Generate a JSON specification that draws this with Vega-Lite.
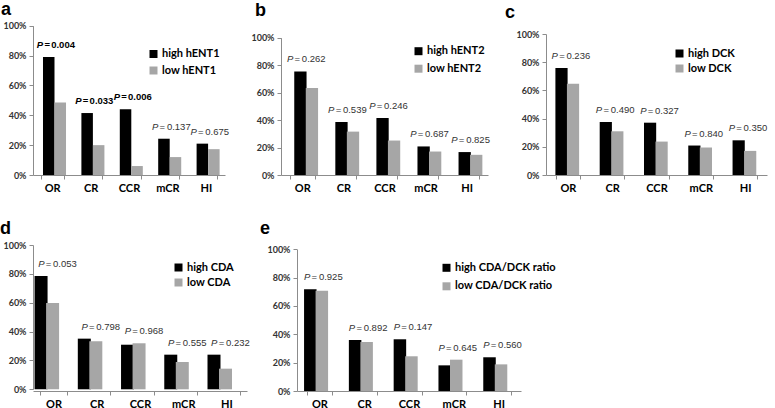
{
  "$schema": "https://vega.github.io/schema/vega-lite/v6.json",
  "padding": {"left": 0, "top": 0, "right": 0, "bottom": 0},
  "background": "white",
  "config": {
    "view": {"stroke": null},
    "axis": {"grid": false, "domainColor": "#8c8c8c", "tickColor": "#8c8c8c", "tickSize": 4, "labelFont": "Lato", "labelFontWeight": "bold"},
    "axisX": {"labelAngle": 0, "labelFontSize": 11, "labelColor": "#000", "tickBand": "extent", "labelPadding": 3},
    "axisY": {"labelFontSize": 9, "labelColor": "#333", "labelPadding": 3},
    "legend": {"orient": "none", "symbolType": "square", "symbolSize": 64, "symbolStrokeWidth": 0, "labelFont": "Lato", "labelFontWeight": "bold", "labelFontSize": 11, "labelColor": "#000", "rowPadding": 4, "labelOffset": 3},
    "title": {"anchor": "start", "frame": "bounds", "font": "Liberation Sans", "fontSize": 18, "fontWeight": "bold", "color": "#000"},
    "text": {"font": "Liberation Sans", "fontSize": 9.5, "color": "#333"}
  },
  "datasets": {
    "a": [
      {"category": "OR", "group": "high hENT1", "value": 79, "p": 0.004},
      {"category": "OR", "group": "low hENT1", "value": 48.5, "p": 0.004},
      {"category": "CR", "group": "high hENT1", "value": 41.5, "p": 0.033},
      {"category": "CR", "group": "low hENT1", "value": 20, "p": 0.033},
      {"category": "CCR", "group": "high hENT1", "value": 44, "p": 0.006},
      {"category": "CCR", "group": "low hENT1", "value": 6, "p": 0.006},
      {"category": "mCR", "group": "high hENT1", "value": 24.3, "p": 0.137},
      {"category": "mCR", "group": "low hENT1", "value": 12, "p": 0.137},
      {"category": "HI", "group": "high hENT1", "value": 21, "p": 0.675},
      {"category": "HI", "group": "low hENT1", "value": 17.3, "p": 0.675}
    ],
    "b": [
      {"category": "OR", "group": "high hENT2", "value": 75.4, "p": 0.262},
      {"category": "OR", "group": "low hENT2", "value": 63.3, "p": 0.262},
      {"category": "CR", "group": "high hENT2", "value": 38.6, "p": 0.539},
      {"category": "CR", "group": "low hENT2", "value": 31.6, "p": 0.539},
      {"category": "CCR", "group": "high hENT2", "value": 41.5, "p": 0.246},
      {"category": "CCR", "group": "low hENT2", "value": 25.1, "p": 0.246},
      {"category": "mCR", "group": "high hENT2", "value": 20.8, "p": 0.687},
      {"category": "mCR", "group": "low hENT2", "value": 17.1, "p": 0.687},
      {"category": "HI", "group": "high hENT2", "value": 16.7, "p": 0.825},
      {"category": "HI", "group": "low hENT2", "value": 14.7, "p": 0.825}
    ],
    "c": [
      {"category": "OR", "group": "high DCK", "value": 75.8, "p": 0.236},
      {"category": "OR", "group": "low DCK", "value": 64.8, "p": 0.236},
      {"category": "CR", "group": "high DCK", "value": 37.6, "p": 0.49},
      {"category": "CR", "group": "low DCK", "value": 31, "p": 0.49},
      {"category": "CCR", "group": "high DCK", "value": 37.1, "p": 0.327},
      {"category": "CCR", "group": "low DCK", "value": 23.7, "p": 0.327},
      {"category": "mCR", "group": "high DCK", "value": 20.9, "p": 0.84},
      {"category": "mCR", "group": "low DCK", "value": 19.5, "p": 0.84},
      {"category": "HI", "group": "high DCK", "value": 24.6, "p": 0.35},
      {"category": "HI", "group": "low DCK", "value": 17.1, "p": 0.35}
    ],
    "d": [
      {"category": "OR", "group": "high CDA", "value": 78.5, "p": 0.053},
      {"category": "OR", "group": "low CDA", "value": 59.8, "p": 0.053},
      {"category": "CR", "group": "high CDA", "value": 35.1, "p": 0.798},
      {"category": "CR", "group": "low CDA", "value": 33.3, "p": 0.798},
      {"category": "CCR", "group": "high CDA", "value": 30.9, "p": 0.968},
      {"category": "CCR", "group": "low CDA", "value": 31.9, "p": 0.968},
      {"category": "mCR", "group": "high CDA", "value": 24, "p": 0.555},
      {"category": "mCR", "group": "low CDA", "value": 18.9, "p": 0.555},
      {"category": "HI", "group": "high CDA", "value": 24, "p": 0.232},
      {"category": "HI", "group": "low CDA", "value": 14.3, "p": 0.232}
    ],
    "e": [
      {"category": "OR", "group": "high CDA/DCK ratio", "value": 71.8, "p": 0.925},
      {"category": "OR", "group": "low CDA/DCK ratio", "value": 70.8, "p": 0.925},
      {"category": "CR", "group": "high CDA/DCK ratio", "value": 36, "p": 0.892},
      {"category": "CR", "group": "low CDA/DCK ratio", "value": 34.6, "p": 0.892},
      {"category": "CCR", "group": "high CDA/DCK ratio", "value": 36.5, "p": 0.147},
      {"category": "CCR", "group": "low CDA/DCK ratio", "value": 24.5, "p": 0.147},
      {"category": "mCR", "group": "high CDA/DCK ratio", "value": 18.1, "p": 0.645},
      {"category": "mCR", "group": "low CDA/DCK ratio", "value": 22.1, "p": 0.645},
      {"category": "HI", "group": "high CDA/DCK ratio", "value": 23.8, "p": 0.56},
      {"category": "HI", "group": "low CDA/DCK ratio", "value": 18.8, "p": 0.56}
    ]
  },
  "resolve": {"scale": {"color": "independent"}, "legend": {"color": "independent"}},
  "spacing": 26,
  "vconcat": [
    {
      "spacing": 15,
      "resolve": {"scale": {"color": "independent"}, "legend": {"color": "independent"}},
      "hconcat": [
        {
          "title": {"text": "a", "offset": 3},
          "width": 192, "height": 151,
          "data": {"name": "a"},
          "encoding": {
            "x": {"field": "category", "type": "nominal", "sort": ["OR", "CR", "CCR", "mCR", "HI"], "scale": {"type": "band", "paddingInner": 0.4, "paddingOuter": 0.2}, "title": null},
            "y": {"field": "value", "type": "quantitative", "scale": {"domain": [0, 100], "range": [151, 1.7]}, "axis": {"values": [0, 20, 40, 60, 80, 100], "labelExpr": "datum.value + '%'", "labelOverlap": false, "minExtent": 32, "maxExtent": 32}, "title": null}
          },
          "layer": [
            {"mark": {"type": "bar", "size": 11.5}, "encoding": {
              "xOffset": {"field": "group", "type": "nominal", "scale": {"paddingInner": 0, "paddingOuter": 0}},
              "color": {"field": "group", "type": "nominal", "scale": {"range": ["#000000", "#a6a6a6"]}, "legend": {"title": null, "legendX": 115, "legendY": 24.5, "rowPadding": 4.5}}
            }},
            {"transform": [{"aggregate": [{"op": "max", "field": "value", "as": "value"}], "groupby": ["category", "p"]}],
             "layer": [
               {"transform": [{"filter": "datum.p < 0.05"}], "mark": {"type": "text", "text": "P", "fontStyle": "italic", "fontWeight": "bold", "align": "right", "dx": -9, "dy": -12, "color": "#000"}},
               {"transform": [{"filter": "datum.p < 0.05"}], "mark": {"type": "text", "text": "=", "fontWeight": "bold", "align": "center", "dx": -5, "dy": -12, "color": "#000"}},
               {"transform": [{"filter": "datum.p < 0.05"}], "mark": {"type": "text", "fontWeight": "bold", "align": "left", "dx": -1, "dy": -12, "color": "#000"}, "encoding": {"text": {"field": "p", "type": "quantitative", "format": ".3f"}}},
               {"transform": [{"filter": "datum.p >= 0.05"}], "mark": {"type": "text", "text": "P", "fontStyle": "italic", "align": "right", "dx": -9, "dy": -12}},
               {"transform": [{"filter": "datum.p >= 0.05"}], "mark": {"type": "text", "text": "=", "align": "center", "dx": -5, "dy": -12}},
               {"transform": [{"filter": "datum.p >= 0.05"}], "mark": {"type": "text", "align": "left", "dx": -0.5, "dy": -12}, "encoding": {"text": {"field": "p", "type": "quantitative", "format": ".3f"}}}
             ]}
          ]
        },
        {
          "title": {"text": "b", "offset": 4, "dx": 10},
          "width": 207, "height": 151,
          "data": {"name": "b"},
          "encoding": {
            "x": {"field": "category", "type": "nominal", "sort": ["OR", "CR", "CCR", "mCR", "HI"], "scale": {"type": "band", "paddingInner": 0.4, "paddingOuter": 0.22}, "title": null},
            "y": {"field": "value", "type": "quantitative", "scale": {"domain": [0, 100], "range": [151, 13.7]}, "axis": {"values": [0, 20, 40, 60, 80, 100], "labelExpr": "datum.value + '%'", "labelOverlap": false, "minExtent": 36, "maxExtent": 36}, "title": null}
          },
          "layer": [
            {"mark": {"type": "bar", "size": 12.3}, "encoding": {
              "xOffset": {"field": "group", "type": "nominal", "scale": {"paddingInner": 0, "paddingOuter": 0}},
              "color": {"field": "group", "type": "nominal", "scale": {"range": ["#000000", "#a6a6a6"]}, "legend": {"title": null, "legendX": 132, "legendY": 21.7, "rowPadding": 5.5}}
            }},
            {"transform": [{"aggregate": [{"op": "max", "field": "value", "as": "value"}], "groupby": ["category", "p"]}],
             "layer": [
               {"mark": {"type": "text", "text": "P", "fontStyle": "italic", "align": "right", "dx": -9, "dy": -12}},
               {"mark": {"type": "text", "text": "=", "align": "center", "dx": -5, "dy": -12}},
               {"mark": {"type": "text", "align": "left", "dx": -0.5, "dy": -12}, "encoding": {"text": {"field": "p", "type": "quantitative", "format": ".3f"}}}
             ]}
          ]
        },
        {
          "title": {"text": "c", "offset": 2},
          "width": 221, "height": 151,
          "data": {"name": "c"},
          "encoding": {
            "x": {"field": "category", "type": "nominal", "sort": ["OR", "CR", "CCR", "mCR", "HI"], "scale": {"type": "band", "paddingInner": 0.45, "paddingOuter": 0.22}, "title": null},
            "y": {"field": "value", "type": "quantitative", "scale": {"domain": [0, 100], "range": [151, 10]}, "axis": {"values": [0, 20, 40, 60, 80, 100], "labelExpr": "datum.value + '%'", "labelOverlap": false, "minExtent": 41, "maxExtent": 41}, "title": null}
          },
          "layer": [
            {"mark": {"type": "bar", "size": 12.2}, "encoding": {
              "xOffset": {"field": "group", "type": "nominal", "scale": {"paddingInner": 0, "paddingOuter": 0}},
              "color": {"field": "group", "type": "nominal", "scale": {"range": ["#000000", "#a6a6a6"]}, "legend": {"title": null, "legendX": 128, "legendY": 24, "rowPadding": 3}}
            }},
            {"transform": [{"aggregate": [{"op": "max", "field": "value", "as": "value"}], "groupby": ["category", "p"]}],
             "layer": [
               {"mark": {"type": "text", "text": "P", "fontStyle": "italic", "align": "right", "dx": -10, "dy": -12}},
               {"mark": {"type": "text", "text": "=", "align": "center", "dx": -6, "dy": -12}},
               {"mark": {"type": "text", "align": "left", "dx": -1.5, "dy": -12}, "encoding": {"text": {"field": "p", "type": "quantitative", "format": ".3f"}}}
             ]}
          ]
        }
      ]
    },
    {
      "spacing": 10,
      "resolve": {"scale": {"color": "independent"}, "legend": {"color": "independent"}},
      "hconcat": [
        {
          "title": {"text": "d", "offset": 3.5},
          "width": 214, "height": 147,
          "data": {"name": "d"},
          "encoding": {
            "x": {"field": "category", "type": "nominal", "sort": ["OR", "CR", "CCR", "mCR", "HI"], "scale": {"type": "band", "paddingInner": 0.37, "paddingOuter": 0.16}, "title": null},
            "y": {"field": "value", "type": "quantitative", "scale": {"domain": [0, 100], "range": [145.3, 1]}, "axis": {"values": [0, 20, 40, 60, 80, 100], "labelExpr": "datum.value + '%'", "labelOverlap": false, "minExtent": 33, "maxExtent": 33}, "title": null}
          },
          "layer": [
            {"mark": {"type": "bar", "size": 13}, "encoding": {
              "xOffset": {"field": "group", "type": "nominal", "scale": {"paddingInner": 0, "paddingOuter": 0}},
              "color": {"field": "group", "type": "nominal", "scale": {"range": ["#000000", "#a6a6a6"]}, "legend": {"title": null, "legendX": 140, "legendY": 18, "rowPadding": 3}}
            }},
            {"transform": [{"aggregate": [{"op": "max", "field": "value", "as": "value"}], "groupby": ["category", "p"]}],
             "layer": [
               {"mark": {"type": "text", "text": "P", "fontStyle": "italic", "align": "right", "dx": -9, "dy": -12}},
               {"mark": {"type": "text", "text": "=", "align": "center", "dx": -5, "dy": -12}},
               {"mark": {"type": "text", "align": "left", "dx": -0.5, "dy": -12}, "encoding": {"text": {"field": "p", "type": "quantitative", "format": ".3f"}}}
             ]}
          ]
        },
        {
          "title": {"text": "e", "offset": 6},
          "width": 224, "height": 147,
          "data": {"name": "e"},
          "encoding": {
            "x": {"field": "category", "type": "nominal", "sort": ["OR", "CR", "CCR", "mCR", "HI"], "scale": {"type": "band", "paddingInner": 0.44, "paddingOuter": 0.22}, "title": null},
            "y": {"field": "value", "type": "quantitative", "scale": {"domain": [0, 100], "range": [147, 5.3]}, "axis": {"values": [0, 20, 40, 60, 80, 100], "labelExpr": "datum.value + '%'", "labelOverlap": false, "minExtent": 37, "maxExtent": 37}, "title": null}
          },
          "layer": [
            {"mark": {"type": "bar", "size": 12.5}, "encoding": {
              "xOffset": {"field": "group", "type": "nominal", "scale": {"paddingInner": 0, "paddingOuter": 0}},
              "color": {"field": "group", "type": "nominal", "scale": {"range": ["#000000", "#a6a6a6"]}, "legend": {"title": null, "legendX": 144, "legendY": 18.3, "rowPadding": 6.5}}
            }},
            {"transform": [{"aggregate": [{"op": "max", "field": "value", "as": "value"}], "groupby": ["category", "p"]}],
             "layer": [
               {"mark": {"type": "text", "text": "P", "fontStyle": "italic", "align": "right", "dx": -9, "dy": -12}},
               {"mark": {"type": "text", "text": "=", "align": "center", "dx": -5, "dy": -12}},
               {"mark": {"type": "text", "align": "left", "dx": -0.5, "dy": -12}, "encoding": {"text": {"field": "p", "type": "quantitative", "format": ".3f"}}}
             ]}
          ]
        }
      ]
    }
  ]
}
